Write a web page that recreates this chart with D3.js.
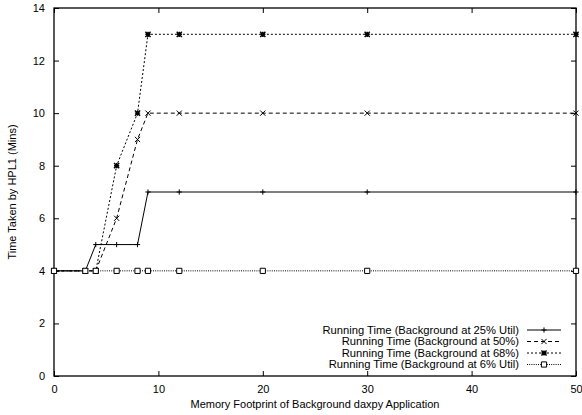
<!DOCTYPE html>
<html>
<head>
<meta charset="utf-8">
<script src="https://cdn.jsdelivr.net/npm/d3@7"></script>
<style>
  body { margin: 0; background: #fff; }
  svg { display: block; font-family: "Liberation Sans", Arial, sans-serif; }
</style>
</head>
<body>
<svg id="drawing_region"></svg>
<script>
// memory footprint (x) shared by all series
const footprint = [0, 3, 4, 6, 8, 9, 12, 20, 30, 50];
const util25 = [4, 4, 5, 5, 5, 7, 7, 7, 7, 7];
const util50 = [4, 4, 4, 6, 9, 10, 10, 10, 10, 10];
const util68 = [4, 4, 4, 8, 10, 13, 13, 13, 13, 13];
const util6 = [4, 4, 4, 4, 4, 4, 4, 4, 4, 4];
const seriesNames = [
    "Running Time (Background at 25% Util)",
    "Running Time (Background at 50%)",
    "Running Time (Background at 68%)",
    "Running Time (Background at 6% Util)"
];
const xTicks = [0, 10, 20, 30, 40, 50];
const yTicks = [0, 2, 4, 6, 8, 10, 12, 14];

const config = {
    width: 582,
    height: 415,
    margin: {top: 8, right: 6, bottom: 39, left: 54}
};

const styles = [
    {dash: null, marker: 'plus'},
    {dash: '4,3', marker: 'cross'},
    {dash: '2,2', marker: 'star'},
    {dash: '1,1.2', marker: 'box'}
];

const series = [util25, util50, util68, util6].map((vals, i) => ({
    name: seriesNames[i],
    style: styles[i],
    points: footprint.map((x, j) => ({x: x, y: vals[j]}))
}));

const svg = d3.select('#drawing_region')
    .attr('width', config.width)
    .attr('height', config.height);

const inner_width = config.width - config.margin.left - config.margin.right;
const inner_height = config.height - config.margin.top - config.margin.bottom;

const chart = svg.append('g')
    .attr('transform', `translate(${config.margin.left}, ${config.margin.top})`);

const xscale = d3.scaleLinear().domain([0, 50]).range([0, inner_width]);
const yscale = d3.scaleLinear().domain([0, 14]).range([inner_height, 0]);

const tickLen = 5;

// axes with inward ticks (gnuplot style, mirrored)
const xaxis = d3.axisBottom(xscale).tickValues(xTicks).tickSize(-tickLen).tickPadding(9);
const yaxis = d3.axisLeft(yscale).tickValues(yTicks).tickSize(-tickLen).tickPadding(9);

chart.append('g')
    .attr('transform', `translate(0, ${inner_height})`)
    .call(xaxis);
chart.append('g').call(yaxis);

chart.append('g')
    .call(d3.axisTop(xscale).tickValues(xTicks).tickSize(-tickLen).tickFormat(''));
chart.append('g')
    .attr('transform', `translate(${inner_width}, 0)`)
    .call(d3.axisRight(yscale).tickValues(yTicks).tickSize(-tickLen).tickFormat(''));

chart.selectAll('.domain').remove();
chart.selectAll('.tick line').attr('stroke', '#000').attr('stroke-width', 1);
chart.selectAll('.tick text').attr('fill', '#000').attr('font-size', 11);

chart.append('rect')
    .attr('width', inner_width)
    .attr('height', inner_height)
    .attr('fill', 'none')
    .attr('stroke', '#000')
    .attr('stroke-width', 1.3);

// axis titles
svg.append('text')
    .attr('x', config.margin.left + inner_width / 2)
    .attr('y', 408)
    .attr('text-anchor', 'middle')
    .attr('font-size', 11)
    .text('Memory Footprint of Background daxpy Application');

svg.append('text')
    .attr('transform', `translate(16, ${config.margin.top + inner_height / 2}) rotate(-90)`)
    .attr('text-anchor', 'middle')
    .attr('font-size', 11)
    .text('Time Taken by HPL1 (Mins)');

function drawMarker(g, type, cx, cy) {
    const s = 2.6;
    let p = '';
    if (type === 'plus' || type === 'star') {
        p += `M${cx - s},${cy}H${cx + s}M${cx},${cy - s}V${cy + s}`;
    }
    if (type === 'cross' || type === 'star') {
        p += `M${cx - s},${cy - s}L${cx + s},${cy + s}M${cx - s},${cy + s}L${cx + s},${cy - s}`;
    }
    if (type === 'box') {
        p += `M${cx - s},${cy - s}H${cx + s}V${cy + s}H${cx - s}Z`;
    }
    g.append('path')
        .attr('d', p)
        .attr('fill', type === 'box' ? '#fff' : 'none')
        .attr('stroke', '#000')
        .attr('stroke-width', type === 'star' ? 1.4 : 1);
}

const line = d3.line().x(d => xscale(d.x)).y(d => yscale(d.y));

series.forEach(s => {
    const g = chart.append('g');
    g.append('path')
        .datum(s.points)
        .attr('d', line)
        .attr('fill', 'none')
        .attr('stroke', '#000')
        .attr('stroke-width', 1)
        .attr('stroke-dasharray', s.style.dash);
    s.points.forEach(d => drawMarker(g, s.style.marker, xscale(d.x), yscale(d.y)));
});

// legend
const legend = svg.append('g');
const legendTop = 330;
const legendRow = 11.5;
series.forEach((s, i) => {
    const y = legendTop + i * legendRow;
    legend.append('text')
        .attr('x', 519)
        .attr('y', y)
        .attr('dy', '0.35em')
        .attr('text-anchor', 'end')
        .attr('font-size', 11.2)
        .text(s.name);
    legend.append('line')
        .attr('x1', 527).attr('x2', 561)
        .attr('y1', y).attr('y2', y)
        .attr('stroke', '#000')
        .attr('stroke-width', 1)
        .attr('stroke-dasharray', s.style.dash);
    drawMarker(legend, s.style.marker, 544, y);
});
</script>
</body>
</html>
